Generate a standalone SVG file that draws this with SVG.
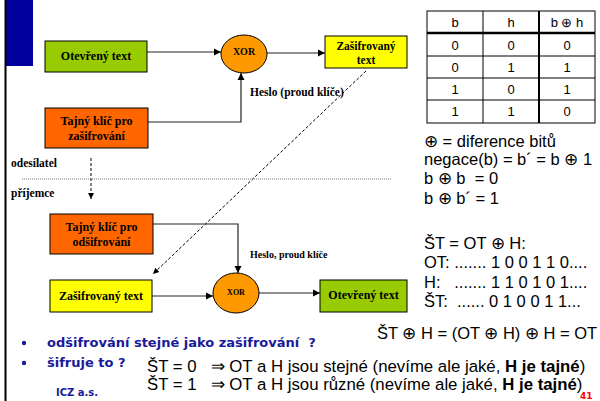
<svg xmlns="http://www.w3.org/2000/svg" width="600" height="401" viewBox="0 0 600 401">
<defs>
<marker id="ah" markerWidth="8" markerHeight="8" refX="7" refY="4" orient="auto" markerUnits="userSpaceOnUse">
<path d="M0,0.5 L7,4 L0,7.5 Z" fill="#000"/>
</marker>
<marker id="ahs" markerWidth="7" markerHeight="7" refX="6" refY="3.5" orient="auto" markerUnits="userSpaceOnUse">
<path d="M0,0.5 L6,3.5 L0,6.5 Z" fill="#000"/>
</marker>
</defs>
<style>
.box{stroke:#000;stroke-width:1}
.bt{font-family:'Liberation Serif','DejaVu Serif',serif;font-weight:bold;font-size:12px;fill:#000;text-anchor:middle}
.lbl{font-family:'Liberation Serif','DejaVu Serif',serif;font-weight:bold;fill:#000}
.conn{fill:none;stroke:#222;stroke-width:1.2}
.dash{fill:none;stroke:#000;stroke-width:1;stroke-dasharray:3,2}
.ar{font-family:'Liberation Sans',Arial,sans-serif;font-size:16.5px;fill:#000}
.tb{font-family:'Liberation Sans',Arial,sans-serif;font-size:13px;fill:#000;text-anchor:middle}
.blue{font-family:'DejaVu Sans',Verdana,sans-serif;font-weight:bold;font-size:13px;fill:#1a1a99}
</style>
<rect width="600" height="401" fill="#fff"/>
<rect x="5" y="0" width="28" height="66" fill="#00009c"/>
<line x1="5.5" y1="0" x2="5.5" y2="401" stroke="#000" stroke-width="2"/>

<g id="connectors">
<line class="conn" x1="147" y1="52" x2="221" y2="52" marker-end="url(#ah)"/>
<polyline class="conn" points="148,122 241,122 241,73" marker-end="url(#ah)"/>
<line class="conn" x1="267" y1="53" x2="325" y2="53" marker-end="url(#ah)"/>
<line class="dash" x1="366" y1="71" x2="153" y2="274" marker-end="url(#ahs)"/>
<line class="dash" x1="91" y1="158" x2="91" y2="199" marker-end="url(#ahs)"/>
<line x1="22" y1="179" x2="391" y2="179" stroke="#777" stroke-width="1" stroke-dasharray="1,1"/>
<polyline class="conn" points="153,224 238,224 238,273" marker-end="url(#ah)"/>
<line class="conn" x1="152" y1="296" x2="213" y2="296" marker-end="url(#ah)"/>
<line class="conn" x1="259" y1="293" x2="320" y2="293" marker-end="url(#ah)"/>
</g>

<g id="ot1">
<rect class="box" x="45" y="41" width="102" height="31" fill="#99cc00"/>
<text class="bt" x="96" y="60">Otevřený text</text>
</g>
<g id="key1">
<rect class="box" x="45" y="108" width="103" height="40" fill="#ff6600"/>
<text class="bt" x="96.5" y="125">Tajný klíč pro</text>
<text class="bt" x="96.5" y="140">zašifrování</text>
</g>
<g id="xor1">
<ellipse class="box" cx="244" cy="54" rx="23" ry="19" fill="#ff9900"/>
<text class="bt" x="244" y="55" style="font-size:10px">XOR</text>
</g>
<g id="st1">
<rect class="box" x="325" y="36" width="82" height="32" fill="#ffff00"/>
<text class="bt" x="366" y="50" style="font-size:11.5px">Zašifrovaný</text>
<text class="bt" x="366" y="64" style="font-size:11.5px">text</text>
</g>
<text class="lbl" x="250" y="96" style="font-size:11.5px">Heslo (proud klíče)</text>

<text class="lbl" x="11" y="167" style="font-size:11.5px">odesílatel</text>
<text class="lbl" x="11" y="197" style="font-size:11.5px">příjemce</text>

<g id="key2">
<rect class="box" x="50" y="214" width="103" height="40" fill="#ff6600"/>
<text class="bt" x="101.5" y="231">Tajný klíč pro</text>
<text class="bt" x="101.5" y="246">odšifrování</text>
</g>
<text class="lbl" x="250" y="258" style="font-size:10px">Heslo, proud klíče</text>
<g id="st2">
<rect class="box" x="50" y="280" width="102" height="32" fill="#ffff00"/>
<text class="bt" x="101" y="300">Zašifrovaný text</text>
</g>
<g id="xor2">
<ellipse class="box" cx="236" cy="293" rx="23" ry="20" fill="#ff9900"/>
<text class="bt" x="236" y="295" style="font-size:8px">XOR</text>
</g>
<g id="ot2">
<rect class="box" x="320" y="280" width="87" height="32" fill="#99cc00"/>
<text class="bt" x="363.5" y="299">Otevřený text</text>
</g>

<g id="table">
<rect x="427" y="11" width="168" height="112" fill="#fff" stroke="#000" stroke-width="1"/>
<line x1="427" y1="33" x2="595" y2="33" stroke="#000" stroke-width="2.5"/>
<line x1="427" y1="56" x2="595" y2="56" stroke="#000" stroke-width="1"/>
<line x1="427" y1="78" x2="595" y2="78" stroke="#000" stroke-width="1"/>
<line x1="427" y1="100" x2="595" y2="100" stroke="#000" stroke-width="1"/>
<line x1="483" y1="11" x2="483" y2="123" stroke="#000" stroke-width="1"/>
<line x1="539" y1="11" x2="539" y2="123" stroke="#000" stroke-width="2"/>
<text class="tb" x="455" y="27">b</text><text class="tb" x="511" y="27">h</text><text class="tb" x="567" y="27">b ⊕ h</text>
<text class="tb" x="455" y="50">0</text><text class="tb" x="511" y="50">0</text><text class="tb" x="567" y="50">0</text>
<text class="tb" x="455" y="72">0</text><text class="tb" x="511" y="72">1</text><text class="tb" x="567" y="72">1</text>
<text class="tb" x="455" y="94">1</text><text class="tb" x="511" y="94">0</text><text class="tb" x="567" y="94">1</text>
<text class="tb" x="455" y="116">1</text><text class="tb" x="511" y="116">1</text><text class="tb" x="567" y="116">0</text>
</g>

<text class="ar" x="424" y="147">⊕ = diference bitů</text>
<text class="ar" x="424" y="165">negace(b) = b´ = b ⊕ 1</text>
<text class="ar" x="424" y="184" xml:space="preserve">b ⊕ b  = 0</text>
<text class="ar" x="424" y="204">b ⊕ b´ = 1</text>
<text class="ar" x="424" y="249">ŠT = OT ⊕ H:</text>
<text class="ar" x="424" y="268">OT: ....... 1 0 0 1 1 0....</text>
<text class="ar" x="424" y="288" xml:space="preserve">H:   ....... 1 1 0 1 0 1....</text>
<text class="ar" x="424" y="307" xml:space="preserve">ŠT:  ...... 0 1 0 0 1 1...</text>
<text class="ar" x="377" y="339">ŠT ⊕ H = (OT ⊕ H) ⊕ H = OT</text>

<circle cx="24" cy="343" r="2.2" fill="#1a1a99"/>
<circle cx="24" cy="363" r="2.2" fill="#1a1a99"/>
<text class="blue" x="47" y="347" xml:space="preserve">odšifrování stejné jako zašifrování  ?</text>
<text class="blue" x="47" y="367">šifruje to ?</text>
<text class="ar" x="147" y="372" style="font-size:16.8px" xml:space="preserve">ŠT = 0   ⇒ OT a H jsou stejné (nevíme ale jaké, <tspan font-weight="bold">H je tajné</tspan>)</text>
<text class="ar" x="147" y="390" style="font-size:16.8px" xml:space="preserve">ŠT = 1   ⇒ OT a H jsou různé (nevíme ale jaké, <tspan font-weight="bold">H je tajné</tspan>)</text>
<text class="blue" x="56" y="396" style="font-size:10px">ICZ a.s.</text>
<text x="580" y="399" style="font-family:'DejaVu Sans',Verdana,sans-serif;font-weight:bold;font-size:9px;fill:#ff0000">41</text>
</svg>
